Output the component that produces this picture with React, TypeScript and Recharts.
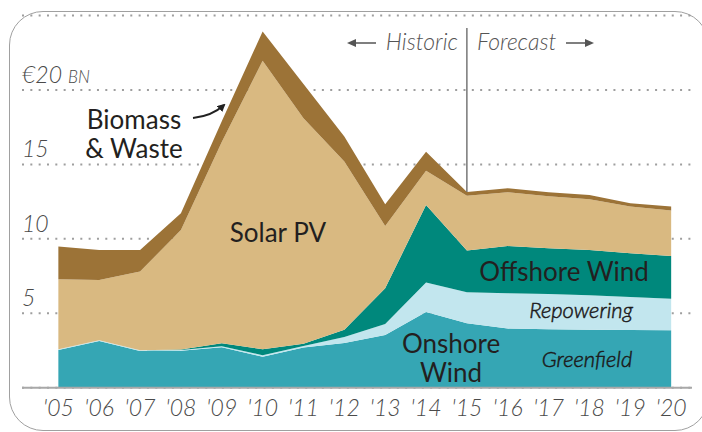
import React from "react";
import {
  AreaChart,
  Area,
  XAxis,
  YAxis,
  CartesianGrid,
  ReferenceLine,
} from "recharts";

const years = [2005, 2006, 2007, 2008, 2009, 2010, 2011, 2012, 2013, 2014, 2015, 2016, 2017, 2018, 2019, 2020];
const greenfield = [2.53, 3.14, 2.47, 2.49, 2.72, 2.08, 2.7, 3.0, 3.54, 5.09, 4.33, 3.97, 3.92, 3.9, 3.88, 3.86];
const repowering = [0.05, 0.05, 0.05, 0.05, 0.06, 0.1, 0.1, 0.4, 0.74, 1.97, 2.08, 2.37, 2.38, 2.31, 2.22, 2.12];
const offshore = [0, 0, 0, 0.02, 0.2, 0.4, 0.16, 0.5, 2.4, 5.22, 2.8, 3.18, 3.07, 3.04, 2.93, 2.87];
const solar = [4.7, 4.05, 5.28, 8.04, 13.52, 19.38, 15.14, 11.3, 4.19, 2.3, 3.69, 3.61, 3.5, 3.41, 3.14, 3.05];
const biomass = [2.2, 2.01, 1.45, 1.12, 1.4, 1.97, 2.3, 1.67, 1.46, 1.28, 0.25, 0.27, 0.26, 0.29, 0.22, 0.27];

const yTicks = [5, 10, 15, 20];
const yTickLabels = ["5", "10", "15", "€20"];
const forecastStart = 2015;

const data = years.map((year, i) => ({
  year,
  greenfield: greenfield[i],
  repowering: repowering[i],
  offshore: offshore[i],
  solar: solar[i],
  biomass: biomass[i],
}));

const forecastTop = greenfield[10] + repowering[10] + offshore[10] + solar[10] + biomass[10];

const FONT = "Lato, 'Open Sans', sans-serif";
const ITALIC_FONT = "Lato, 'Open Sans', sans-serif";
const TICK_COLOR = "#4a4a4a";

const XTick = (props: any) => {
  const { x, y, payload } = props;
  return (
    <text x={x} y={y} dy={28} textAnchor="middle" fontFamily={FONT} fontStyle="italic" fontWeight={300} fontSize={23} fill={TICK_COLOR}>
      {"'" + String(payload.value).slice(2)}
    </text>
  );
};

const YTick = (props: any) => {
  const { x, y, payload } = props;
  const idx = yTicks.indexOf(payload.value);
  const label = yTickLabels[idx] ?? String(payload.value);
  return (
    <text x={x} y={y} dy={-7} textAnchor="start" fontFamily={FONT} fontStyle="italic" fontWeight={300} fontSize={23} fill={TICK_COLOR}>
      {label}
      {payload.value === 20 ? <tspan fontSize={17} dx={6}>BN</tspan> : null}
    </text>
  );
};

export default function App() {
  return (
    <div style={{ position: "fixed", left: 0, top: 0, width: 702, height: 432, background: "#fff", overflow: "hidden" }}>
      <div
        style={{
          position: "absolute",
          left: 9,
          top: 11,
          width: 700,
          height: 420,
          border: "1.5px solid #a0a0a0",
          borderRadius: 34,
          boxSizing: "border-box",
        }}
      />
      <div style={{ position: "absolute", left: 0, top: 0 }}>
        <AreaChart
          width={702}
          height={432}
          data={data}
          margin={{ top: 15.6, right: 10, left: 0, bottom: 14.3 }}
        >
          <CartesianGrid horizontal vertical={false} stroke="#9e9e9e" strokeWidth={2} strokeDasharray="2 6.33" />
          <XAxis
            dataKey="year"
            type="number"
            domain={[2004.11, 2020.51]}
            ticks={years}
            interval={0}
            height={30}
            tickLine={false}
            tickSize={0}
            tickMargin={0}
            axisLine={{ stroke: "#a8a8a8", strokeWidth: 2 }}
            tick={<XTick />}
          />
          <YAxis
            type="number"
            domain={[0, 25]}
            ticks={yTicks}
            width={22}
            axisLine={false}
            tickLine={false}
            tickSize={0}
            tickMargin={0}
            interval={0}
            tick={<YTick />}
          />
          <Area type="linear" dataKey="greenfield" stackId="a" stroke="none" fill="#35a6b4" fillOpacity={1} isAnimationActive={false} />
          <Area type="linear" dataKey="repowering" stackId="a" stroke="none" fill="#c2e6ee" fillOpacity={1} isAnimationActive={false} />
          <Area type="linear" dataKey="offshore" stackId="a" stroke="none" fill="#00887c" fillOpacity={1} isAnimationActive={false} />
          <Area type="linear" dataKey="solar" stackId="a" stroke="none" fill="#d9b981" fillOpacity={1} isAnimationActive={false} />
          <Area type="linear" dataKey="biomass" stackId="a" stroke="none" fill="#9c7337" fillOpacity={1} isAnimationActive={false} />
          <ReferenceLine
            segment={[
              { x: forecastStart, y: 24.17 },
              { x: forecastStart, y: forecastTop },
            ]}
            stroke="#555"
            strokeWidth={1.2}
          />
        </AreaChart>
      </div>
      <svg width={702} height={432} style={{ position: "absolute", left: 0, top: 0, pointerEvents: "none" }}>
        <defs>
          <marker id="ah" markerWidth="8" markerHeight="8" refX="6" refY="4" orient="auto" markerUnits="userSpaceOnUse">
            <path d="M0,0 L8,4 L0,8 Z" fill="#222" />
          </marker>
        </defs>
        <g fontFamily={FONT} fill="#231f20">
          <text x={134} y={129} fontSize={26} textAnchor="middle">Biomass</text>
          <text x={134} y={158} fontSize={26} textAnchor="middle">&amp; Waste</text>
          <text x={278} y={242} fontSize={26} textAnchor="middle">Solar PV</text>
          <text x={564} y={281} fontSize={26} textAnchor="middle">Offshore Wind</text>
          <text x={581} y={318} fontSize={22} fontWeight={300} fontFamily={ITALIC_FONT} fontStyle="italic" textAnchor="middle" fill="#1c1a1b" stroke="#1c1a1b" strokeWidth={0.5}>Repowering</text>
          <text x={451} y={353} fontSize={26} textAnchor="middle">Onshore</text>
          <text x={451} y={382} fontSize={26} textAnchor="middle">Wind</text>
          <text x={587} y={367} fontSize={22} fontWeight={300} fontFamily={ITALIC_FONT} fontStyle="italic" textAnchor="middle" fill="#1c1a1b" stroke="#1c1a1b" strokeWidth={0.5}>Greenfield</text>
        </g>
        <path d="M193,118 Q212,116 224,105" fill="none" stroke="#222" strokeWidth={2} markerEnd="url(#ah)" />
        <g fontFamily={FONT} fontStyle="italic" fontWeight={300} fontSize={23} fill="#555">
          <text x={458} y={50} textAnchor="end">Historic</text>
          <text x={477} y={50} textAnchor="start">Forecast</text>
        </g>
        <line x1={350} y1={43} x2={376} y2={43} stroke="#555" strokeWidth={1.5} />
        <path d="M347,43 L356,39 L356,47 Z" fill="#555" />
        <line x1={566} y1={43} x2={590} y2={43} stroke="#555" strokeWidth={1.5} />
        <path d="M594,43 L585,39 L585,47 Z" fill="#555" />
      </svg>
    </div>
  );
}
